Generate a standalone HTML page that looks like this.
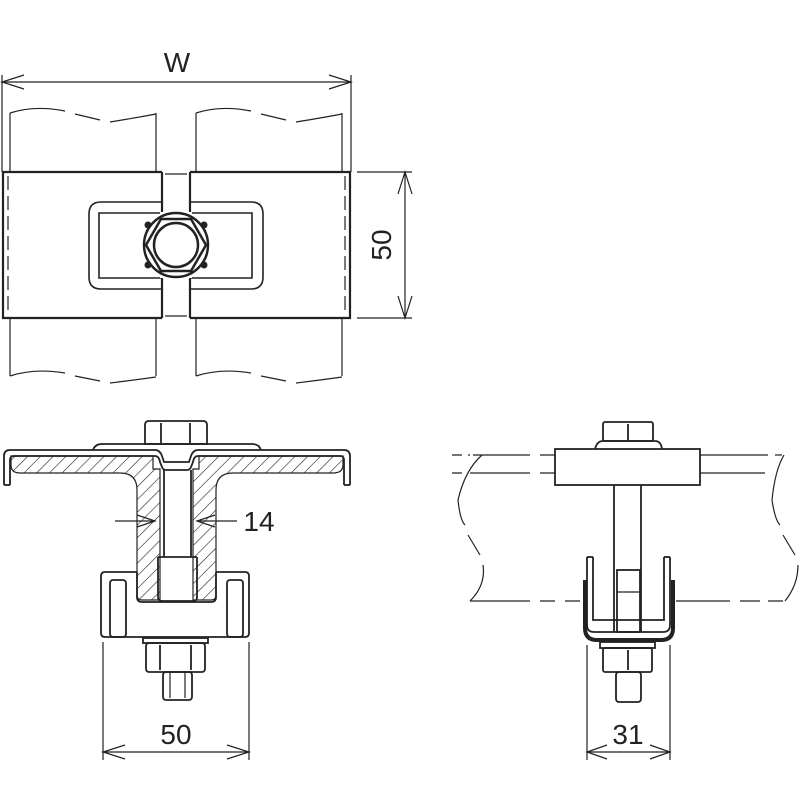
<!DOCTYPE html>
<html><head><meta charset="utf-8"><style>
html,body{margin:0;padding:0;background:#fff;}
svg{display:block;}
text{font-family:"Liberation Sans",sans-serif;fill:#222;}
</style></head><body>
<svg width="800" height="800" viewBox="0 0 800 800" xmlns="http://www.w3.org/2000/svg">
<defs>
<pattern id="h" width="9" height="9" patternUnits="userSpaceOnUse" patternTransform="rotate(45)">
<line x1="0" y1="0" x2="0" y2="9" stroke="#222" stroke-width="1.2"/>
</pattern>
</defs>
<g fill="none" stroke="#222" stroke-width="1.2">
<!-- ===== TOP VIEW ===== -->
<line x1="2" y1="75" x2="2" y2="172"/>
<line x1="351" y1="75" x2="351" y2="172"/>
<line x1="2" y1="82" x2="351" y2="82"/>
<polyline points="24,75 2,82 24,89"/>
<polyline points="329,75 351,82 329,89"/>
<!-- plates -->
<line x1="10" y1="113" x2="10" y2="172"/><line x1="156" y1="113" x2="156" y2="172"/>
<line x1="196" y1="113" x2="196" y2="172"/><line x1="342" y1="113" x2="342" y2="172"/>
<line x1="10" y1="318" x2="10" y2="376"/><line x1="156" y1="318" x2="156" y2="376"/>
<line x1="196" y1="318" x2="196" y2="376"/><line x1="342" y1="318" x2="342" y2="376"/>
<path d="M10,113 Q35,105 65,111 M75,114 L100,120 M110,122 Q135,118 156,114" />
<path d="M196,113 Q221,105 251,111 M261,114 L286,120 M296,122 Q321,118 342,114" />
<path d="M10,376 Q35,368 65,373 M75,376 L100,381 M110,383 Q135,380 156,377" />
<path d="M196,376 Q221,368 251,373 M261,376 L286,381 M296,383 Q321,380 342,377" />
<!-- strap -->
<g stroke-width="2.2">
<polyline points="162,172 3,172 3,318 162,318"/>
<polyline points="190,172 350,172 350,318 190,318"/>
<line x1="162" y1="172" x2="162" y2="318"/>
<line x1="190" y1="172" x2="190" y2="318"/>
</g>
<line x1="165" y1="174" x2="187" y2="174"/>
<line x1="165" y1="316" x2="187" y2="316"/>
<line x1="8" y1="176" x2="8" y2="314" stroke-dasharray="14,6"/>
<line x1="345" y1="176" x2="345" y2="314" stroke-dasharray="14,6"/>
<!-- slot -->
<g stroke-width="1.6">
<path d="M162,202 L101,202 Q89,202 89,214 L89,277 Q89,289 101,289 L162,289"/>
<path d="M162,213 L99,213 L99,278 L162,278"/>
<path d="M190,202 L251,202 Q263,202 263,214 L263,277 Q263,289 251,289 L190,289"/>
<path d="M190,213 L252,213 L252,278 L190,278"/>
</g>
<!-- bolt top -->
<rect x="160" y="212" width="32" height="66" fill="#fff" stroke="none"/>
<circle cx="176" cy="245" r="32" stroke-width="2.5" fill="#fff"/>
<polygon points="161,219 191,219 206,245 191,271 161,271 146,245" stroke-width="2.5"/>
<circle cx="176" cy="245" r="22" stroke-width="2.5"/>
<g fill="#222" stroke="none">
<circle cx="148" cy="225" r="3.5"/><circle cx="204" cy="225" r="3.5"/>
<circle cx="148" cy="265" r="3.5"/><circle cx="204" cy="265" r="3.5"/>
</g>
<!-- 50 vertical -->
<line x1="357" y1="172" x2="412" y2="172"/>
<line x1="357" y1="318" x2="412" y2="318"/>
<line x1="405" y1="172" x2="405" y2="318"/>
<polyline points="398,194 405,172 412,194"/>
<polyline points="398,296 405,318 412,296"/>

<!-- ===== SECTION VIEW ===== -->
<!-- hatch region -->
<path d="M11,456 L153,456 L153,469 L160,469 L160,600 L142,600 Q137,600 137,595 L137,490 Q137,473 120,473 L20,473 Q11,473 11,465 Z" fill="url(#h)"/>
<path d="M343,456 L199,456 L199,469 L193,469 L193,600 L211,600 Q216,600 216,595 L216,490 Q216,473 233,473 L333,473 Q343,473 343,465 Z" fill="url(#h)"/>
<g stroke-width="1.8">
<path d="M10,485 L10,460 Q10,456 14,456 L155,456 Q159,456 160,462 L162,467 Q163,470 166,470 L187,470 Q190,470 191,467 L193,462 Q194,456 198,456 L340,456 Q344,456 344,460 L344,485"/>
<path d="M4,485 L4,456 Q4,450 10,450 L155,450 Q160,450 162,456 L164,462 L189,462 L191,456 Q193,450 198,450 L344,450 Q350,450 350,456 L350,485"/>
<line x1="4" y1="485" x2="10" y2="485"/><line x1="344" y1="485" x2="350" y2="485"/>
<line x1="164" y1="470" x2="164" y2="557"/><line x1="191" y1="470" x2="191" y2="557"/>
<line x1="158" y1="557" x2="197" y2="557"/>
<path d="M93,450 Q95,444 102,444 L252,444 Q259,444 261,450"/>
<path d="M145,444 L145,425 Q145,421 149,421 L203,421 Q207,421 207,425 L207,444 Z"/>
<line x1="161" y1="423" x2="161" y2="443"/><line x1="190" y1="423" x2="190" y2="443"/>
<!-- clamp -->
<path d="M158,557 L158,597 Q158,601 162,601 L194,601 Q197,601 197,597 L197,557"/>
<path d="M137,572 L105,572 Q101,572 101,576 L101,633 Q101,637 105,637 L245,637 Q249,637 249,633 L249,576 Q249,572 245,572 L216,572"/>
<path d="M137,572 L137,597 Q137,602 142,602 L211,602 Q216,602 216,597 L216,572"/>
<rect x="110" y="580" width="16" height="57" rx="3"/>
<rect x="227" y="580" width="16" height="57" rx="3"/>
<rect x="143" y="638" width="65" height="5"/>
<rect x="146" y="643" width="59" height="29" rx="3"/>
<line x1="160" y1="645" x2="160" y2="670"/><line x1="191" y1="645" x2="191" y2="670"/>
<rect x="163" y="672" width="29" height="28" rx="3"/>
</g>
<line x1="170" y1="672" x2="170" y2="698"/><line x1="185" y1="672" x2="185" y2="698"/>
<!-- 14 -->
<line x1="115" y1="521" x2="155" y2="521"/>
<polyline points="137,515 155,521 137,527"/>
<line x1="197" y1="521" x2="237" y2="521"/>
<polyline points="215,515 197,521 215,527"/>
<!-- 50 -->
<line x1="103" y1="642" x2="103" y2="760"/>
<line x1="249" y1="642" x2="249" y2="760"/>
<line x1="103" y1="752" x2="249" y2="752"/>
<polyline points="125,745 103,752 125,759"/>
<polyline points="227,745 249,752 227,759"/>

<!-- ===== SIDE VIEW ===== -->
<path d="M473,455 L530,455 M540,455 L555,455 M700,455 L768,455" />
<path d="M775,455 L782,455" />
<path d="M470,473 L530,473 M540,473 L555,473 M700,473 L765,473"/>
<path d="M482,455 Q465,470 458,500 Q460,520 465,525 M468,535 L480,555 M483,565 Q486,585 470,601" />
<path d="M784,455 Q775,470 772,500 Q775,520 780,525 M783,535 L795,555 M798,565 Q798,585 785,601" />
<path d="M470,601 L530,601 M540,601 L555,601 M565,601 L580,601 M676,601 L730,601 M740,601 L760,601 M768,601 L783,601"/>
<path d="M452,455 L470,455 M452,473 L462,473" stroke-dasharray="10,6"/>
<g stroke-width="1.8">
<rect x="555" y="449" width="145" height="36"/>
<path d="M595,449 Q597,441 603,441 L655,441 Q661,441 662,449"/>
<rect x="603" y="422" width="50" height="19" rx="2"/>
<line x1="628" y1="424" x2="628" y2="440"/>
<line x1="614" y1="485" x2="614" y2="632"/><line x1="641" y1="485" x2="641" y2="632"/>
<rect x="617" y="570" width="23" height="62"/>
<path d="M587,557 L587,625 Q587,632 594,632 L663,632 Q670,632 670,625 L670,557"/>
<path d="M593,557 L593,620 L664,620 L664,557"/>
<line x1="587" y1="557" x2="593" y2="557"/><line x1="664" y1="557" x2="670" y2="557"/>
</g>
<path d="M585,580 L585,628 Q585,640 597,640 L661,640 Q673,640 673,628 L673,580" stroke-width="4"/>
<line x1="617" y1="592" x2="640" y2="592"/>
<g stroke-width="1.8">
<rect x="600" y="642" width="55" height="6"/>
<rect x="603" y="648" width="49" height="24" rx="2"/>
<line x1="628" y1="650" x2="628" y2="670"/>
<rect x="616" y="672" width="25" height="30" rx="3"/>
</g>
<!-- 31 -->
<line x1="587" y1="645" x2="587" y2="760"/>
<line x1="670" y1="645" x2="670" y2="760"/>
<line x1="587" y1="752" x2="670" y2="752"/>
<polyline points="607,745 587,752 607,759"/>
<polyline points="650,745 670,752 650,759"/>
</g>
<text x="177" y="72" font-size="28" text-anchor="middle">W</text>
<text x="0" y="0" font-size="28" text-anchor="middle" transform="translate(391,245) rotate(-90)">50</text>
<text x="259" y="531" font-size="28" text-anchor="middle">14</text>
<text x="176" y="744" font-size="28" text-anchor="middle">50</text>
<text x="628" y="744" font-size="28" text-anchor="middle">31</text>
</svg>
</body></html>
